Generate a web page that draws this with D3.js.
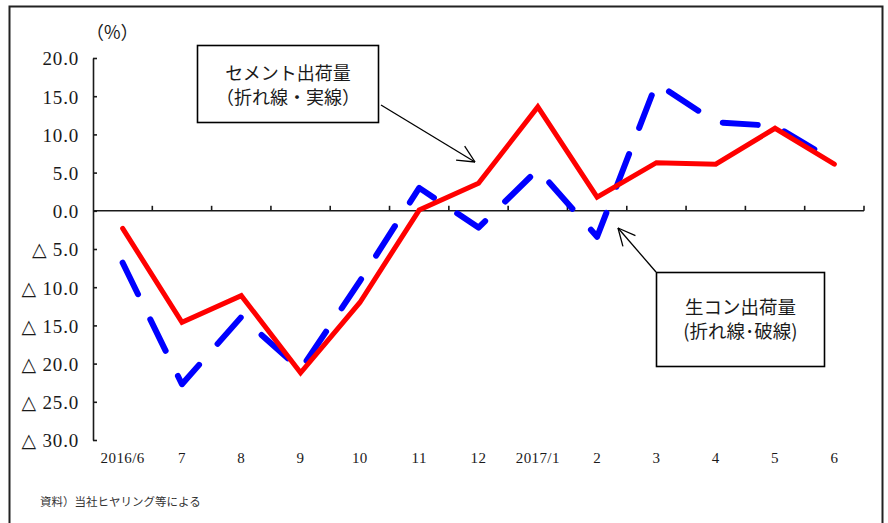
<!DOCTYPE html>
<html>
<head>
<meta charset="utf-8">
<script src="https://cdn.jsdelivr.net/npm/d3@7"></script>
<style>
  html, body { margin: 0; padding: 0; background: #fff; }
  svg { display: block; }
</style>
</head>
<body>
<svg id="chart" width="888" height="523"></svg>
<script>
// Month labels (June 2016 – June 2017)
const months = ["2016/6", "7", "8", "9", "10", "11", "12", "2017/1", "2", "3", "4", "5", "6"];
// Year-on-year change, %: cement shipments (solid) and ready-mixed concrete shipments (dashed)
const cement = [-2.3, -14.6, -11.1, -21.2, -12.0, 0.1, 3.6, 13.6, 1.8, 6.3, 6.1, 10.8, 6.1];
const readyMix = [-6.8, -22.7, -13.9, -20.8, -9.2, 3.0, -2.2, 5.4, -3.4, 16.7, 11.6, 11.1, 6.5];
// Value-axis ticks
const yTicks = [20, 15, 10, 5, 0, -5, -10, -15, -20, -25, -30];

const svg = d3.select("#chart");
const serif = "'Liberation Serif', 'DejaVu Serif', 'Noto Sans CJK JP', serif";
const cjk = "'Noto Sans CJK JP', sans-serif";
const ink = "#1a1a1a";

// Outer frame
svg.append("rect")
  .attr("x", 9.5).attr("y", 6.5).attr("width", 873).attr("height", 540)
  .attr("fill", "none").attr("stroke", "#222").attr("stroke-width", 2);

const x = d3.scaleBand().domain(months).range([93, 864]).paddingInner(0).paddingOuter(0);
const y = d3.scaleLinear().domain([-30, 20]).range([440, 58]);
const cx = d => x(d) + x.bandwidth() / 2;

// Value axis: ticks point inward, negatives marked with △
const fmt = v => v < 0 ? "△ " + Math.abs(v).toFixed(1) : v.toFixed(1);
const yAxis = d3.axisLeft(y).tickValues(yTicks).tickFormat(fmt)
  .tickSizeInner(-4).tickSizeOuter(0).tickPadding(14);
const gy = svg.append("g").attr("transform", "translate(93,0)").call(yAxis);
gy.select(".domain").attr("stroke", ink).attr("stroke-width", 1.6);
gy.selectAll(".tick line").attr("stroke", ink).attr("stroke-width", 1.6);
gy.selectAll(".tick text")
  .attr("fill", ink).attr("font-family", serif).attr("font-size", 19)
  .attr("letter-spacing", 0.8).attr("dy", "0.36em");

// Category axis along the zero line, ticks on band boundaries pointing up
const y0 = y(0);
svg.append("line")
  .attr("x1", 93).attr("x2", 864).attr("y1", y0).attr("y2", y0)
  .attr("stroke", ink).attr("stroke-width", 1.6);
svg.append("g").selectAll("line").data(months).join("line")
  .attr("x1", d => x(d) + x.bandwidth()).attr("x2", d => x(d) + x.bandwidth())
  .attr("y1", y0).attr("y2", y0 - 5)
  .attr("stroke", ink).attr("stroke-width", 1.6);

// Month labels below the plot
svg.append("g").selectAll("text").data(months).join("text")
  .attr("x", cx).attr("y", 463)
  .attr("text-anchor", "middle")
  .attr("font-family", serif).attr("font-size", 15).attr("letter-spacing", 0.4)
  .attr("fill", ink).text(d => d);

// Unit label
svg.append("text")
  .attr("x", 86).attr("y", 39)
  .attr("font-family", cjk).attr("font-size", 18).attr("fill", ink)
  .text("（%）");

// Series lines
const line = vals => d3.line().x((d, i) => cx(months[i])).y(d => y(d))(vals);

svg.append("path")
  .attr("d", line(readyMix))
  .attr("fill", "none").attr("stroke", "#0000ff").attr("stroke-width", 6)
  .attr("stroke-dasharray", "35,28").attr("stroke-linecap", "round")
  .attr("stroke-linejoin", "round");

svg.append("path")
  .attr("d", line(cement))
  .attr("fill", "none").attr("stroke", "#ff0000").attr("stroke-width", 5)
  .attr("stroke-linejoin", "miter").attr("stroke-linecap", "round");

// Callout arrows with open arrowheads
function arrow(x1, y1, x2, y2) {
  const g = svg.append("g").attr("stroke", "#000").attr("stroke-width", 1.3).attr("fill", "none");
  g.append("line").attr("x1", x1).attr("y1", y1).attr("x2", x2).attr("y2", y2);
  const a = Math.atan2(y1 - y2, x1 - x2);
  const len = 19, spread = 0.45;
  [a - spread, a + spread].forEach(t => {
    g.append("line").attr("x1", x2).attr("y1", y2)
      .attr("x2", x2 + len * Math.cos(t)).attr("y2", y2 + len * Math.sin(t));
  });
}

// Callout boxes
function callout(bx, by, bw, bh, lines, size, ly) {
  svg.append("rect").attr("x", bx).attr("y", by).attr("width", bw).attr("height", bh)
    .attr("fill", "#fff").attr("stroke", "#000").attr("stroke-width", 1.6);
  lines.forEach((t, i) => {
    svg.append("text").attr("x", bx + bw / 2).attr("y", ly[i])
      .attr("text-anchor", "middle").attr("font-family", cjk)
      .attr("font-size", size).attr("fill", ink).text(t);
  });
}

arrow(381, 105, 475, 162);
callout(197.5, 45.5, 181, 77, ["セメント出荷量", "（折れ線・実線）"], 18, [80, 104]);

arrow(656, 272, 618, 228);
callout(656.5, 272.5, 168, 94, ["生コン出荷量", "(折れ線･破線)"], 18.5, [314, 338]);

// Source note
svg.append("text")
  .attr("x", 40).attr("y", 506)
  .attr("font-family", cjk).attr("font-size", 11.5).attr("fill", "#333")
  .text("資料）当社ヒヤリング等による");
</script>
</body>
</html>
